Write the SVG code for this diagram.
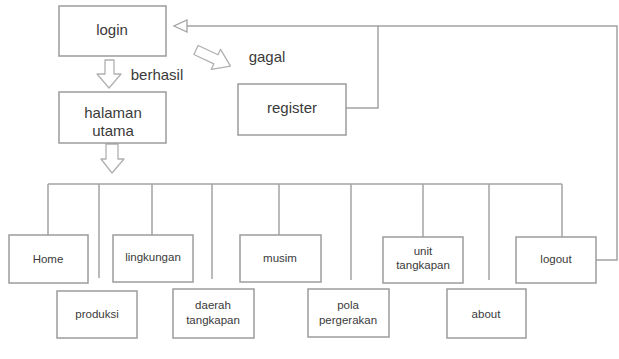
<svg xmlns="http://www.w3.org/2000/svg" width="619" height="359" viewBox="0 0 619 359">
<defs>
<style>
.box{fill:#fff;stroke:#9c9c9c;stroke-width:1.5}
.ln{fill:none;stroke:#a3a3a3;stroke-width:1.5}
.blk{fill:#fff;stroke:#b0b0b0;stroke-width:1.3;stroke-linejoin:round}
.t{font-family:"Liberation Sans",Arial,sans-serif;fill:#3a3a3a;text-anchor:middle}
.big{font-size:15px}
.sm{font-size:11.5px}
</style>
<marker id="open" markerWidth="16" markerHeight="14" refX="14" refY="7" orient="auto" markerUnits="userSpaceOnUse">
<polygon points="14,7 1,1 1,13" fill="#fff" stroke="#a3a3a3" stroke-width="1.3"/>
</marker>
</defs>
<rect width="619" height="359" fill="#fff"/>
<g id="connectors">
<polyline class="ln" points="346,108 378,108 378,26 174,26" marker-end="url(#open)"/>
<polyline class="ln" points="378,26 617,26 617,260 596,260"/>
<line class="ln" x1="48" y1="184" x2="562" y2="184"/>
<line class="ln" x1="48" y1="184" x2="48" y2="235"/>
<line class="ln" x1="99" y1="184" x2="99" y2="278"/>
<line class="ln" x1="152" y1="184" x2="152" y2="235"/>
<line class="ln" x1="212" y1="184" x2="212" y2="279"/>
<line class="ln" x1="279" y1="184" x2="279" y2="235"/>
<line class="ln" x1="351" y1="184" x2="351" y2="280"/>
<line class="ln" x1="423" y1="184" x2="423" y2="237"/>
<line class="ln" x1="489" y1="184" x2="489" y2="280"/>
<line class="ln" x1="562" y1="184" x2="562" y2="237"/>
<polygon class="blk" points="105,60 114,60 114,74 121,74 109,88 97,74 105,74"/>
<polygon class="blk" points="106,144 118,144 118,159 124,159 112,173 101,159 106,159"/>
<polygon class="blk" transform="translate(196,50) rotate(25)" points="0,-5 22,-5 22,-11 38,0 22,11 22,5 0,5"/>
<text class="t big" x="157" y="80">berhasil</text>
<text class="t big" x="267" y="62">gagal</text>
</g>
<g id="login"><rect class="box" x="59" y="6" width="107" height="50"/><text class="t big" x="112" y="35">login</text></g>
<g id="halaman-utama"><rect class="box" x="59" y="92" width="107" height="51"/><text class="t big" x="113" y="118">halaman</text><text class="t big" x="113" y="136">utama</text></g>
<g id="register"><rect class="box" x="238" y="84" width="108" height="51"/><text class="t big" x="292" y="113">register</text></g>
<g id="home"><rect class="box" x="9" y="235" width="79" height="48"/><text class="t sm" x="48" y="263">Home</text></g>
<g id="lingkungan"><rect class="box" x="113" y="235" width="80" height="47"/><text class="t sm" x="153" y="261">lingkungan</text></g>
<g id="musim"><rect class="box" x="240" y="235" width="81" height="47"/><text class="t sm" x="280" y="262">musim</text></g>
<g id="unit-tangkapan"><rect class="box" x="383" y="237" width="80" height="46"/><text class="t sm" x="423" y="255">unit</text><text class="t sm" x="423" y="269">tangkapan</text></g>
<g id="logout"><rect class="box" x="516" y="237" width="80" height="46"/><text class="t sm" x="556" y="263">logout</text></g>
<g id="produksi"><rect class="box" x="57" y="291" width="80" height="47"/><text class="t sm" x="97" y="318">produksi</text></g>
<g id="daerah-tangkapan"><rect class="box" x="173" y="289" width="81" height="49"/><text class="t sm" x="213" y="309">daerah</text><text class="t sm" x="213" y="324">tangkapan</text></g>
<g id="pola-pergerakan"><rect class="box" x="308" y="289" width="81" height="48"/><text class="t sm" x="348" y="309">pola</text><text class="t sm" x="348" y="324">pergerakan</text></g>
<g id="about"><rect class="box" x="447" y="289" width="79" height="49"/><text class="t sm" x="486" y="318">about</text></g>
</svg>
